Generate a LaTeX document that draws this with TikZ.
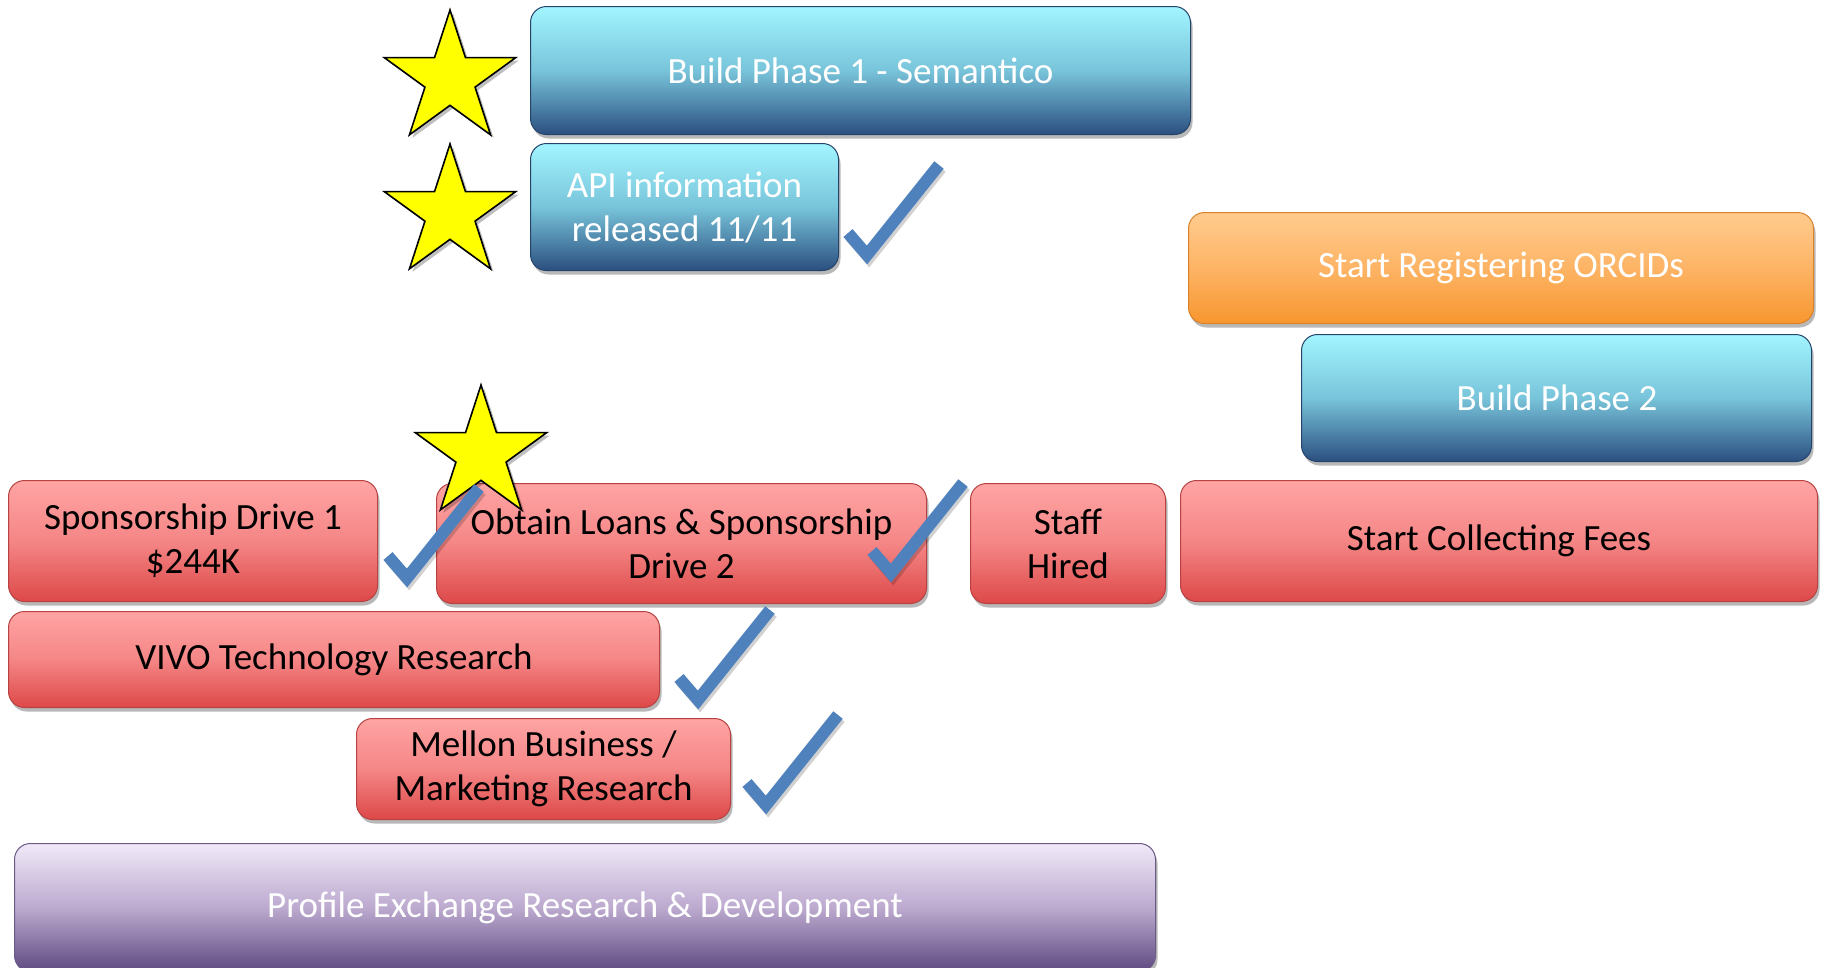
\documentclass[tikz,border=0pt]{standalone}
\usepackage{fontspec}
\setmainfont{Carlito}
\usetikzlibrary{shapes.geometric,shadows}
\definecolor{bluetop}{HTML}{A2F5FF}
\definecolor{bluemid}{HTML}{78C4DA}
\definecolor{bluebot}{HTML}{2B4F80}
\definecolor{bluebd}{HTML}{24446C}
\definecolor{orgtop}{HTML}{FFCB8E}
\definecolor{orgmid}{HTML}{FDB465}
\definecolor{orgbot}{HTML}{F7962F}
\definecolor{orgbd}{HTML}{D9822A}
\definecolor{redtop}{HTML}{FFA4A4}
\definecolor{redmid}{HTML}{F58686}
\definecolor{redbot}{HTML}{DD4848}
\definecolor{redbd}{HTML}{B84242}
\definecolor{purtop}{HTML}{F0E9F8}
\definecolor{purmid}{HTML}{BCAACF}
\definecolor{purbot}{HTML}{5E4A80}
\definecolor{purbd}{HTML}{6A5A88}
\definecolor{checkblue}{HTML}{4F81BD}
\definecolor{staryellow}{HTML}{FFFF00}
\tikzset{
  box/.style={anchor=north west, rounded corners=16pt, inner sep=0pt, line width=1pt,
    align=center, font=\fontsize{37}{44}\selectfont,
    drop shadow={shadow xshift=2pt, shadow yshift=-4pt, opacity=0.28, fill=black}},
  bluebox/.style={box, draw=bluebd, top color=bluetop, bottom color=bluebot, middle color=bluemid, text=white},
  orgbox/.style={box, draw=orgbd, top color=orgtop, bottom color=orgbot, middle color=orgmid, text=white},
  redbox/.style={box, draw=redbd, top color=redtop, bottom color=redbot, middle color=redmid, text=black},
  purbox/.style={box, draw=purbd, top color=purtop, bottom color=purbot, middle color=purmid, text=white},
  starmark/.style={star, star points=5, star point ratio=2.618, minimum size=138pt, inner sep=0pt,
    draw=black, line width=1.6pt, fill=staryellow,
    drop shadow={shadow xshift=3pt, shadow yshift=-3pt, opacity=0.25, fill=black}},
  pics/checkmk/.style={code={
    \draw[line width=12pt, draw=black, opacity=0.18, line join=miter] (6,71) -- (25,93) -- (97,3);
    \draw[line width=12pt, draw=checkblue, line join=miter] (4,68) -- (23,90) -- (95,0);
  }}
}
\begin{document}
\begin{tikzpicture}[x=1pt,y=-1pt]
\clip (0,0) rectangle (1826,967);
\fill[white] (0,0) rectangle (1826,967);
% boxes
\node[bluebox, minimum width=660pt, minimum height=128pt] (bp1) at (530,6) {Build Phase 1 - Semantico};
\node[bluebox, minimum width=308pt, minimum height=127pt] (api) at (530,143) {API information\\released 11/11};
\node[orgbox, minimum width=625pt, minimum height=111pt] (orcid) at (1188,212) {Start Registering ORCIDs};
\node[bluebox, minimum width=510pt, minimum height=127pt] (bp2) at (1301,334) {\hspace*{1pt}Build Phase 2};
\node[redbox, minimum width=369pt, minimum height=121pt] (sd1) at (8,480) {Sponsorship Drive 1\\\$244K};
\node[redbox, minimum width=490pt, minimum height=120pt] (obt) at (436,483) {Obtain Loans \& Sponsorship\\Drive 2};
\node[redbox, minimum width=195pt, minimum height=120pt] (staff) at (970,483) {Staff\\Hired};
\node[redbox, minimum width=637pt, minimum height=121pt] (fees) at (1180,480) {Start Collecting Fees};
\node[redbox, minimum width=651pt, minimum height=96pt] (vivo) at (8,611) {VIVO Technology Research};
\node[redbox, minimum width=374pt, minimum height=101pt] (mellon) at (356,718) {Mellon Business /\\Marketing Research};
\node[purbox, minimum width=1141pt, minimum height=128pt] (pex) at (14,843) {Profile Exchange Research \& Development};
% stars
\node[starmark] (s1) at (450,79) {};
\node[starmark] (s2) at (450,213) {};
\node[starmark] (s3) at (481,454) {};
% checkmarks
\pic at (844,165) {checkmk};
\pic at (384,488) {checkmk};
\pic at (868,483) {checkmk};
\pic at (675,610) {checkmk};
\pic at (743,715) {checkmk};
\end{tikzpicture}
\end{document}
